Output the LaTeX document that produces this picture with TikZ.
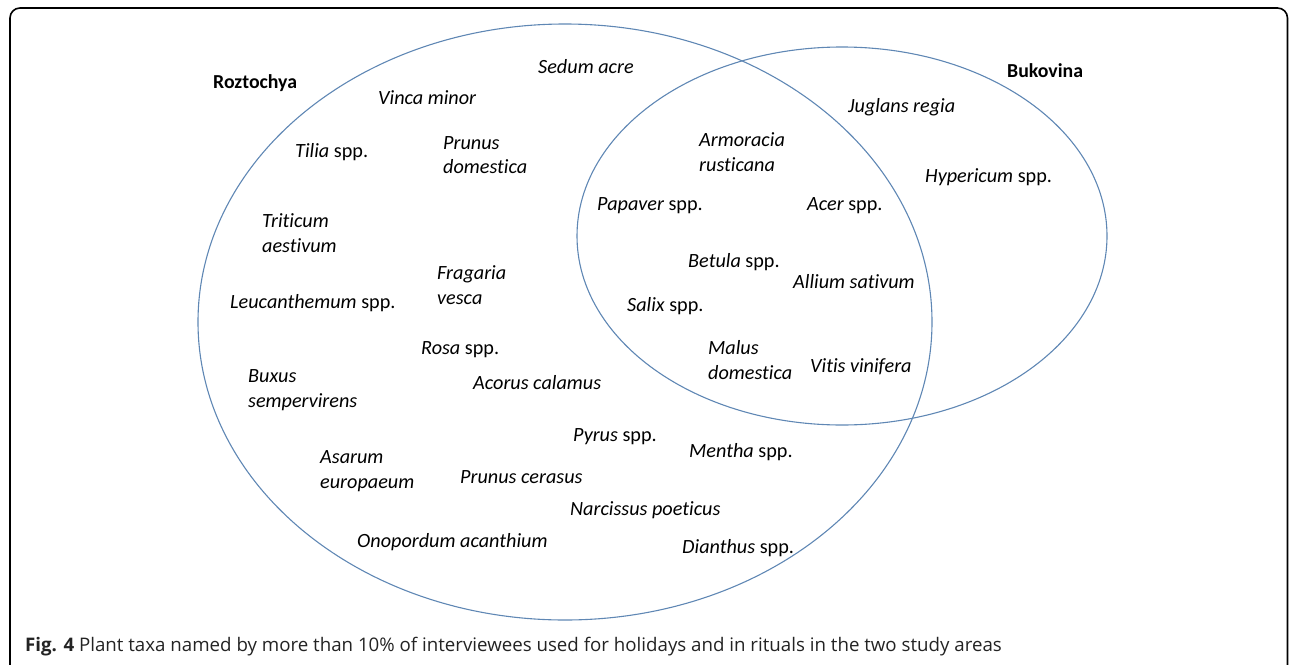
\documentclass[tikz,border=0pt]{standalone}
\usepackage{fontspec}
\setmainfont[Ligatures=NoCommon]{Carlito}
\newfontfamily\captionfont{Open Sans}
\usetikzlibrary{positioning}

\definecolor{vennblue}{RGB}{95,135,180}
\definecolor{captiongray}{RGB}{35,35,35}

\begin{document}
\begin{tikzpicture}
    [
      x=1pt,y=-1pt,
      taxon/.style={font=\fontsize{20.2}{24.5}\selectfont\itshape,anchor=west,inner sep=0pt,align=left},
      area/.style={font=\fontsize{19.8}{22}\selectfont\bfseries,anchor=west,inner sep=0pt},
      venn/.style={draw=vennblue,line width=1.1pt},
    ]

    \useasboundingbox (0,0) rectangle (1290,664);
    \clip (0,0) rectangle (1290,664);
    \draw [line width=1.6pt,rounded corners=10pt] (10,8) rectangle (1287.5,720);

    % the two study areas
    \draw [venn] (565,322) ellipse [x radius=367pt,y radius=298pt];
    \draw [venn] (842,236) ellipse [x radius=265pt,y radius=189pt];

    \node (roztochya) [area] at (213,83) {Roztochya};
    \node (bukovina) [area] at (1007,71) {Bukovina};

    % Roztochya only
    \node (vinca) [taxon] at (378,98) {Vinca minor};
    \node (sedum) [taxon] at (538,67) {Sedum acre};
    \node (tilia) [taxon] at (295,152) {\textit{Tilia} \upshape spp.};
    \node (prunusd) [taxon] at (443,155) {Prunus\\domestica};
    \node (triticum) [taxon] at (262,233) {Triticum\\aestivum};
    \node (fragaria) [taxon] at (437,285) {Fragaria\\vesca};
    \node (leucanthemum) [taxon] at (230,303) {Leucanthemum \upshape spp.};
    \node (rosa) [taxon] at (421,350) {Rosa \upshape spp.};
    \node (buxus) [taxon] at (248,390) {Buxus\\sempervirens};
    \node (acorus) [taxon] at (473,383) {Acorus calamus};
    \node (pyrus) [taxon] at (573,437) {Pyrus \upshape spp.};
    \node (mentha) [taxon] at (689,452) {Mentha \upshape spp.};
    \node (asarum) [taxon] at (320,471) {Asarum\\europaeum};
    \node (prunusc) [taxon] at (460,477) {Prunus cerasus};
    \node (narcissus) [taxon] at (570,510) {Narcissus poeticus};
    \node (onopordum) [taxon] at (357,542) {Onopordum acanthium};
    \node (dianthus) [taxon] at (682,548) {Dianthus \upshape spp.};

    % both areas
    \node (armoracia) [taxon] at (699,152) {Armoracia\\rusticana};
    \node (papaver) [taxon] at (597,206) {Papaver \upshape spp.};
    \node (acer) [taxon] at (807,206) {Acer \upshape spp.};
    \node (betula) [taxon] at (688,262) {Betula \upshape spp.};
    \node (allium) [taxon] at (793,282) {Allium sativum};
    \node (salix) [taxon] at (627,306) {Salix \upshape spp.};
    \node (malus) [taxon] at (708,360) {Malus\\domestica};
    \node (vitis) [taxon] at (810,367) {Vitis vinifera};

    % Bukovina only
    \node (juglans) [taxon] at (848,107) {Juglans regia};
    \node (hypericum) [taxon] at (925,177) {Hypericum \upshape spp.};

    \node (caption) [anchor=west,inner sep=0pt,text=captiongray,
      font=\captionfont\fontsize{18.7}{22}\selectfont] at (25,647)
      {\textbf{Fig. 4} Plant taxa named by more than 10\% of interviewees used for holidays and in rituals in the two study areas};

  \end{tikzpicture}
\end{document}
